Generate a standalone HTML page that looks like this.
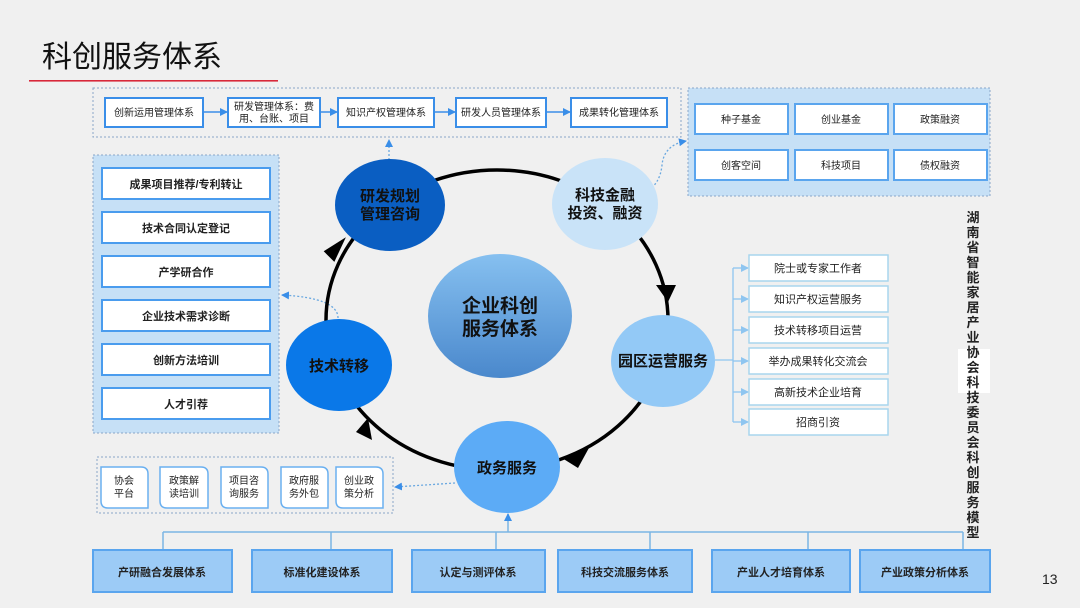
<!DOCTYPE html>
<html><head><meta charset="utf-8"><style>
body{margin:0;background:#f0f0f0}
svg{display:block}
text{font-family:"Liberation Sans","Noto Sans CJK SC",sans-serif;}
</style></head><body>
<svg width="1080" height="608" viewBox="0 0 1080 608" xmlns="http://www.w3.org/2000/svg">
<defs>
<marker id="ab" markerWidth="8" markerHeight="8" refX="7" refY="4" orient="auto" markerUnits="userSpaceOnUse"><path d="M0,0 L8,4 L0,8 z" fill="#3a8ee8"/></marker>
<marker id="al" markerWidth="8" markerHeight="8" refX="7" refY="4" orient="auto" markerUnits="userSpaceOnUse"><path d="M0,0 L8,4 L0,8 z" fill="#8ec5f0"/></marker>
<linearGradient id="cg" x1="0" y1="0" x2="0" y2="1"><stop offset="0" stop-color="#86c0f0"/><stop offset="1" stop-color="#4a88cc"/></linearGradient>
</defs>
<rect width="1080" height="608" fill="#f0f0f0"/>
<text x="42" y="67" font-size="30" fill="#111">科创服务体系</text>
<rect x="29" y="80" width="249" height="1.6" fill="#d8283a"/>

<!-- top management chain -->
<rect x="93" y="88" width="588" height="49" fill="none" stroke="#8aa6c8" stroke-dasharray="2,2"/>
<g font-size="10" fill="#222" text-anchor="middle">
<rect x="105" y="98" width="98" height="29" fill="#fff" stroke="#3a8ee8" stroke-width="2"/><text x="154" y="116">创新运用管理体系</text>
<rect x="228" y="98" width="92" height="29" fill="#fff" stroke="#3a8ee8" stroke-width="2"/><text x="274" y="110">研发管理体系：费</text><text x="274" y="122">用、台账、项目</text>
<rect x="338" y="98" width="96" height="29" fill="#fff" stroke="#3a8ee8" stroke-width="2"/><text x="386" y="116">知识产权管理体系</text>
<rect x="456" y="98" width="90" height="29" fill="#fff" stroke="#3a8ee8" stroke-width="2"/><text x="501" y="116">研发人员管理体系</text>
<rect x="571" y="98" width="96" height="29" fill="#fff" stroke="#3a8ee8" stroke-width="2"/><text x="619" y="116">成果转化管理体系</text>
</g>
<g stroke="#3a8ee8" stroke-width="1.5">
<line x1="204" y1="112" x2="227" y2="112" marker-end="url(#ab)"/>
<line x1="321" y1="112" x2="337" y2="112" marker-end="url(#ab)"/>
<line x1="435" y1="112" x2="455" y2="112" marker-end="url(#ab)"/>
<line x1="547" y1="112" x2="570" y2="112" marker-end="url(#ab)"/>
</g>

<!-- finance -->
<rect x="688" y="88" width="302" height="108" fill="#c6e0f6" stroke="#8aa6c8" stroke-dasharray="2,2"/>
<g font-size="10" fill="#222" text-anchor="middle">
<rect x="695" y="104" width="93" height="30" fill="#fff" stroke="#5aa5ee" stroke-width="2"/><text x="741" y="123">种子基金</text>
<rect x="795" y="104" width="93" height="30" fill="#fff" stroke="#5aa5ee" stroke-width="2"/><text x="841" y="123">创业基金</text>
<rect x="894" y="104" width="93" height="30" fill="#fff" stroke="#5aa5ee" stroke-width="2"/><text x="940" y="123">政策融资</text>
<rect x="695" y="150" width="93" height="30" fill="#fff" stroke="#5aa5ee" stroke-width="2"/><text x="741" y="169">创客空间</text>
<rect x="795" y="150" width="93" height="30" fill="#fff" stroke="#5aa5ee" stroke-width="2"/><text x="841" y="169">科技项目</text>
<rect x="894" y="150" width="93" height="30" fill="#fff" stroke="#5aa5ee" stroke-width="2"/><text x="940" y="169">债权融资</text>
</g>

<!-- left tech transfer list -->
<rect x="93" y="155" width="186" height="278" fill="#c6e0f6" stroke="#8aa6c8" stroke-dasharray="2,2"/>
<g font-size="11" fill="#222" text-anchor="middle" font-weight="bold">
<rect x="102" y="168" width="168" height="31" fill="#fff" stroke="#4a9cee" stroke-width="2"/><text x="186" y="188">成果项目推荐/专利转让</text>
<rect x="102" y="212" width="168" height="31" fill="#fff" stroke="#4a9cee" stroke-width="2"/><text x="186" y="232">技术合同认定登记</text>
<rect x="102" y="256" width="168" height="31" fill="#fff" stroke="#4a9cee" stroke-width="2"/><text x="186" y="276">产学研合作</text>
<rect x="102" y="300" width="168" height="31" fill="#fff" stroke="#4a9cee" stroke-width="2"/><text x="186" y="320">企业技术需求诊断</text>
<rect x="102" y="344" width="168" height="31" fill="#fff" stroke="#4a9cee" stroke-width="2"/><text x="186" y="364">创新方法培训</text>
<rect x="102" y="388" width="168" height="31" fill="#fff" stroke="#4a9cee" stroke-width="2"/><text x="186" y="408">人才引荐</text>
</g>

<!-- bottom-left gov tags -->
<rect x="97" y="457" width="296" height="56" fill="none" stroke="#8aa6c8" stroke-dasharray="2,2"/>
<g font-size="10" fill="#222" text-anchor="middle">
<path d="M101,467 h40 q7,0 7,7 v34 h-40 q-7,0 -7,-7 z" fill="#fff" stroke="#6ab0f0" stroke-width="1.5" transform="translate(0,0)"/>
<text x="124" y="484">协会</text><text x="124" y="497">平台</text>
<path d="M160,467 h41 q7,0 7,7 v34 h-41 q-7,0 -7,-7 z" fill="#fff" stroke="#6ab0f0" stroke-width="1.5"/>
<text x="184" y="484">政策解</text><text x="184" y="497">读培训</text>
<path d="M221,467 h40 q7,0 7,7 v34 h-40 q-7,0 -7,-7 z" fill="#fff" stroke="#6ab0f0" stroke-width="1.5"/>
<text x="244" y="484">项目咨</text><text x="244" y="497">询服务</text>
<path d="M281,467 h40 q7,0 7,7 v34 h-40 q-7,0 -7,-7 z" fill="#fff" stroke="#6ab0f0" stroke-width="1.5"/>
<text x="304" y="484">政府服</text><text x="304" y="497">务外包</text>
<path d="M336,467 h40 q7,0 7,7 v34 h-40 q-7,0 -7,-7 z" fill="#fff" stroke="#6ab0f0" stroke-width="1.5"/>
<text x="359" y="484">创业政</text><text x="359" y="497">策分析</text>
</g>

<!-- dotted connectors -->
<g fill="none" stroke="#6aa8e0" stroke-width="1.3" stroke-dasharray="2,2">
<path d="M389,160 L389,140" marker-end="url(#ab)"/>
<path d="M645,192 Q660,185 662,165 Q664,145 686,141" marker-end="url(#ab)"/>
<path d="M338,318 Q338,298 282,295" marker-end="url(#ab)"/>
<path d="M455,483 L395,487" marker-end="url(#ab)"/>
</g>

<!-- ring -->
<ellipse cx="497" cy="320" rx="171" ry="150" fill="none" stroke="#000" stroke-width="3.5"/>
<g fill="#000">
<path d="M656,285 L676,285 L668,302 z"/>
<path d="M590,446 L578,468 L562,458 z"/>
<path d="M368,418 L372,440 L356,432 z"/>
<path d="M344,236 L336,262 L324,253 z" transform="rotate(8 336 250)"/>
</g>

<!-- nodes -->
<ellipse cx="390" cy="205" rx="55" ry="46" fill="#0a5ec2"/>
<ellipse cx="605" cy="204" rx="53" ry="46" fill="#c9e3f8"/>
<ellipse cx="663" cy="361" rx="52" ry="46" fill="#93c9f6"/>
<ellipse cx="507" cy="467" rx="53" ry="46" fill="#5cabf6"/>
<ellipse cx="339" cy="365" rx="53" ry="46" fill="#0a78e8"/>
<ellipse cx="500" cy="316" rx="72" ry="62" fill="url(#cg)"/>
<g font-size="15" font-weight="bold" fill="#111" text-anchor="middle">
<text x="390" y="201">研发规划</text><text x="390" y="219">管理咨询</text>
<text x="605" y="200">科技金融</text><text x="605" y="218">投资、融资</text>
<text x="663" y="366">园区运营服务</text>
<text x="507" y="473">政务服务</text>
<text x="339" y="371">技术转移</text>
<text x="500" y="312" font-size="19">企业科创</text><text x="500" y="335" font-size="19">服务体系</text>
</g>

<!-- right list -->
<g stroke="#8ec5f0" stroke-width="1.3" fill="none">
<line x1="715" y1="360" x2="733" y2="360"/>
<line x1="733" y1="268" x2="733" y2="422"/>
<line x1="733" y1="268" x2="748" y2="268" marker-end="url(#al)"/>
<line x1="733" y1="299" x2="748" y2="299" marker-end="url(#al)"/>
<line x1="733" y1="330" x2="748" y2="330" marker-end="url(#al)"/>
<line x1="733" y1="361" x2="748" y2="361" marker-end="url(#al)"/>
<line x1="733" y1="392" x2="748" y2="392" marker-end="url(#al)"/>
<line x1="733" y1="422" x2="748" y2="422" marker-end="url(#al)"/>
</g>
<g font-size="11" fill="#222" text-anchor="middle">
<rect x="749" y="255" width="139" height="26" fill="#fff" stroke="#a8d6ee" stroke-width="1.5"/><text x="818" y="272">院士或专家工作者</text>
<rect x="749" y="286" width="139" height="26" fill="#fff" stroke="#a8d6ee" stroke-width="1.5"/><text x="818" y="303">知识产权运营服务</text>
<rect x="749" y="317" width="139" height="26" fill="#fff" stroke="#a8d6ee" stroke-width="1.5"/><text x="818" y="334">技术转移项目运营</text>
<rect x="749" y="348" width="139" height="26" fill="#fff" stroke="#a8d6ee" stroke-width="1.5"/><text x="818" y="365">举办成果转化交流会</text>
<rect x="749" y="379" width="139" height="26" fill="#fff" stroke="#a8d6ee" stroke-width="1.5"/><text x="818" y="396">高新技术企业培育</text>
<rect x="749" y="409" width="139" height="26" fill="#fff" stroke="#a8d6ee" stroke-width="1.5"/><text x="818" y="426">招商引资</text>
</g>

<!-- vertical text -->
<rect x="958" y="349" width="32" height="44" fill="#fff"/>
<g font-size="13" font-weight="bold" fill="#222" text-anchor="middle">
<text x="973" y="222">湖</text><text x="973" y="237">南</text><text x="973" y="252">省</text><text x="973" y="267">智</text><text x="973" y="282">能</text><text x="973" y="297">家</text><text x="973" y="312">居</text><text x="973" y="327">产</text><text x="973" y="342">业</text><text x="973" y="357">协</text><text x="973" y="372">会</text><text x="973" y="387">科</text><text x="973" y="402">技</text><text x="973" y="417">委</text><text x="973" y="432">员</text><text x="973" y="447">会</text><text x="973" y="462">科</text><text x="973" y="477">创</text><text x="973" y="492">服</text><text x="973" y="507">务</text><text x="973" y="522">模</text><text x="973" y="537">型</text>
</g>

<!-- bottom systems -->
<g stroke="#7bb5e4" stroke-width="1.5" fill="none">
<line x1="163" y1="532" x2="963" y2="532"/>
<line x1="508" y1="532" x2="508" y2="514" marker-end="url(#ab)"/>
<line x1="163" y1="532" x2="163" y2="550"/>
<line x1="331" y1="532" x2="331" y2="550"/>
<line x1="496" y1="532" x2="496" y2="550"/>
<line x1="650" y1="532" x2="650" y2="550"/>
<line x1="808" y1="532" x2="808" y2="550"/>
<line x1="963" y1="532" x2="963" y2="550"/>
</g>
<g font-size="11" fill="#222" text-anchor="middle" font-weight="bold">
<rect x="93" y="550" width="139" height="42" fill="#9ccbf6" stroke="#5aa5ee" stroke-width="2"/><text x="162" y="576">产研融合发展体系</text>
<rect x="252" y="550" width="140" height="42" fill="#9ccbf6" stroke="#5aa5ee" stroke-width="2"/><text x="322" y="576">标准化建设体系</text>
<rect x="412" y="550" width="133" height="42" fill="#9ccbf6" stroke="#5aa5ee" stroke-width="2"/><text x="478" y="576">认定与测评体系</text>
<rect x="558" y="550" width="134" height="42" fill="#9ccbf6" stroke="#5aa5ee" stroke-width="2"/><text x="625" y="576">科技交流服务体系</text>
<rect x="712" y="550" width="138" height="42" fill="#9ccbf6" stroke="#5aa5ee" stroke-width="2"/><text x="781" y="576">产业人才培育体系</text>
<rect x="860" y="550" width="130" height="42" fill="#9ccbf6" stroke="#5aa5ee" stroke-width="2"/><text x="925" y="576">产业政策分析体系</text>
</g>
<text x="1042" y="584" font-size="14" fill="#222">13</text>
</svg>
</body></html>
